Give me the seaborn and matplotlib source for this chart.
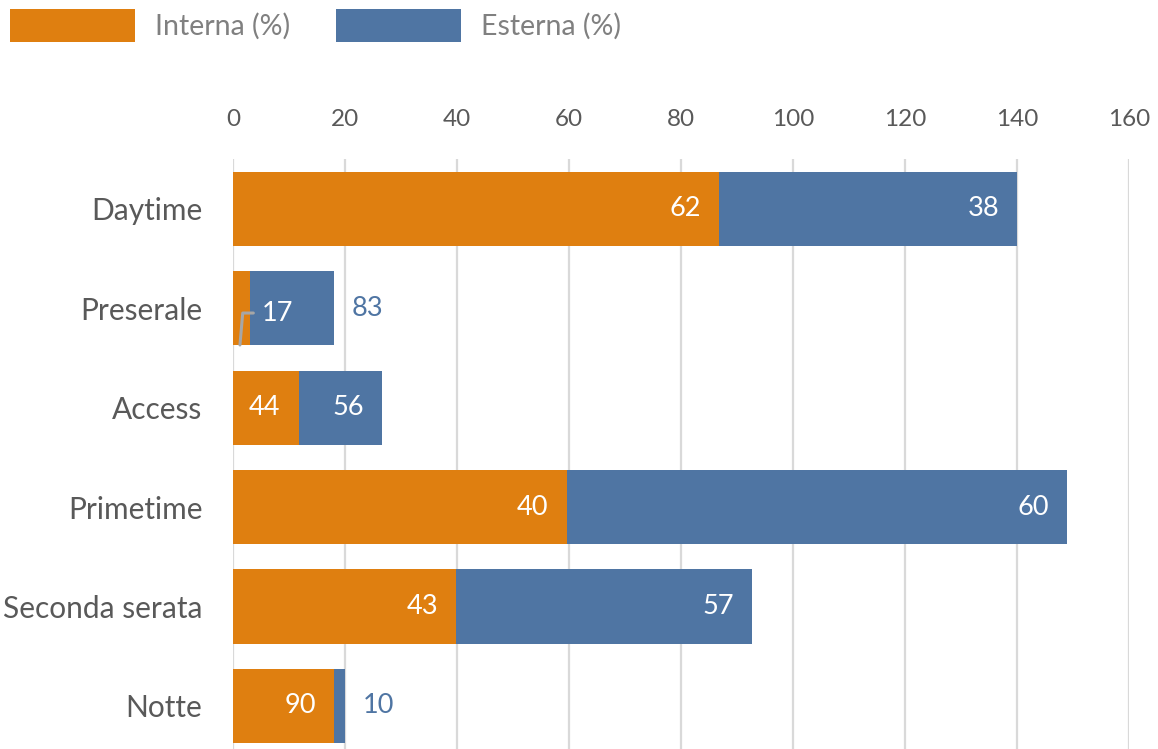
import matplotlib
matplotlib.use("Agg")
import matplotlib.pyplot as plt
import seaborn as sns
import pandas as pd
from matplotlib.patches import Patch

# ---- data ----
categories = ["Daytime", "Preserale", "Access", "Primetime", "Seconda serata", "Notte"]
interna = [86.8, 3.1, 11.7, 59.6, 39.9, 18.0]
esterna = [53.2, 14.9, 14.9, 89.4, 52.8, 2.0]
interna_pct = [62, 17, 44, 40, 43, 90]
esterna_pct = [38, 83, 56, 60, 57, 10]
x_ticks = [0, 20, 40, 60, 80, 100, 120, 140, 160]
series_names = ["Interna (%)", "Esterna (%)"]

ORANGE = "#DF7F10"
BLUE = "#4F75A3"
TXT = "#595959"
LEG = "#808080"
GRID = "#D9D9D9"

sns.set_style("white")
plt.rcParams["font.family"] = ["Lato", "DejaVu Sans"]

df = pd.DataFrame({"cat": categories, "interna": interna, "esterna": esterna})
df["total"] = df["interna"] + df["esterna"]

W, H = 1158, 749
fig = plt.figure(figsize=(W / 100, H / 100), dpi=100)
ax = fig.add_axes([233 / W, 0, (1129 - 233) / W, 1 - 159 / H])

sns.barplot(data=df, x="total", y="cat", color=BLUE, saturation=1, width=0.745,
            linewidth=0, orient="h", ax=ax, zorder=3)
sns.barplot(data=df, x="interna", y="cat", color=ORANGE, saturation=1, width=0.745,
            linewidth=0, orient="h", ax=ax, zorder=4)

ax.set_xlim(0, 160)
ax.set_ylim(5 + 43 / 99.4, -0.5)
ax.set_xticks(x_ticks)
ax.set_xlabel("")
ax.set_ylabel("")
ax.xaxis.tick_top()
ax.tick_params(axis="x", length=0, pad=21, labelsize=17.5, labelcolor=TXT)
ax.tick_params(axis="y", length=0, pad=22, labelsize=21.5, labelcolor=TXT)
for s in ax.spines.values():
    s.set_visible(False)
ax.grid(axis="x", color=GRID, linewidth=1.6, zorder=0)
ax.grid(axis="y", visible=False)
ax.set_axisbelow(True)

# ---- data labels ----
fs = 19.5
for i in range(len(categories)):
    o = interna[i]
    t = interna[i] + esterna[i]
    # interna label
    if o >= 8:
        ax.annotate(str(interna_pct[i]), xy=(o, i), xytext=(-13, 0), textcoords="offset points",
                    ha="right", va="center", color="white", fontsize=fs, zorder=6)
    else:
        # leader line label placed inside the blue segment
        ax.annotate(str(interna_pct[i]), xy=(o * 0.4, i + 0.37), xytext=(16, 23),
                    textcoords="offset points", ha="left", va="center", color="white",
                    fontsize=fs, zorder=6,
                    arrowprops=dict(arrowstyle="-", color="#A6A6A6", lw=2.2,
                                    connectionstyle="angle,angleA=0,angleB=85,rad=0",
                                    shrinkA=4, shrinkB=0))
    # esterna label
    if esterna[i] >= 8 and interna[i] >= 8:
        ax.annotate(str(esterna_pct[i]), xy=(t, i), xytext=(-13, 0), textcoords="offset points",
                    ha="right", va="center", color="white", fontsize=fs, zorder=6)
    else:
        ax.annotate(str(esterna_pct[i]), xy=(t, i), xytext=(13, 0), textcoords="offset points",
                    ha="left", va="center", color=BLUE, fontsize=fs, zorder=6)

# ---- legend ----
handles = [Patch(facecolor=ORANGE, edgecolor="none"), Patch(facecolor=BLUE, edgecolor="none")]
leg = fig.legend(handles, series_names, loc="upper left", bbox_to_anchor=(10 / W, 1 - 9 / H),
                 ncol=2, frameon=False, fontsize=20.5, handlelength=4.4, handleheight=1.4,
                 handletextpad=0.68, columnspacing=1.62, borderpad=0, borderaxespad=0)
for tx in leg.get_texts():
    tx.set_color(LEG)

fig.savefig("out.png", dpi=100)
